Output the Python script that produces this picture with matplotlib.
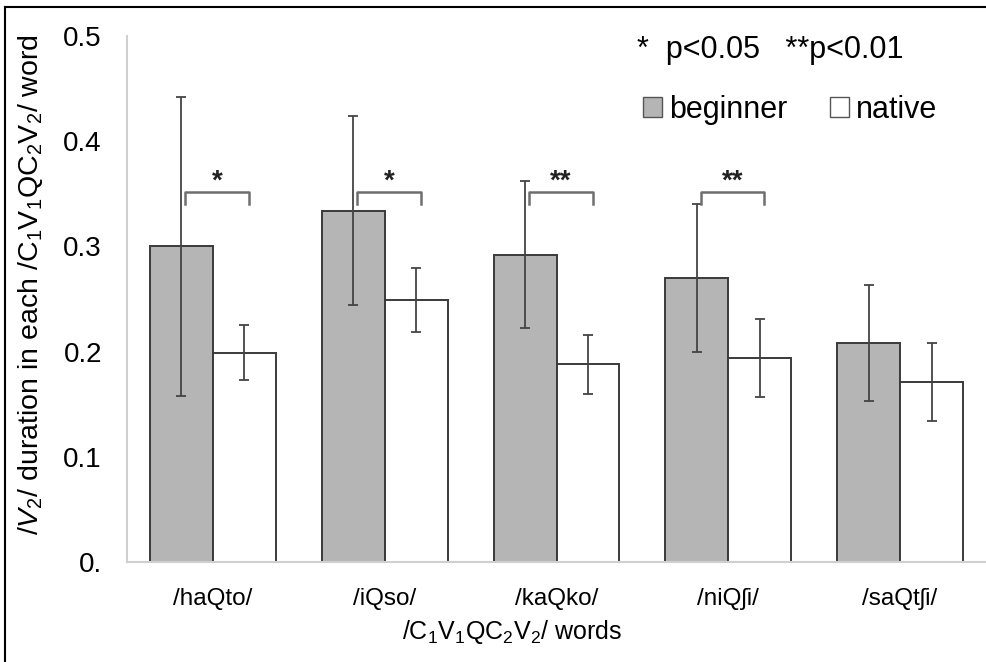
import numpy as np
import matplotlib
matplotlib.use('Agg')
import matplotlib.pyplot as plt
from matplotlib.patches import Patch
from matplotlib.lines import Line2D

words = ['/haQto/', '/iQso/', '/kaQko/', '/niQʃi/', '/saQtʃi/']
beginner = [0.300, 0.334, 0.292, 0.270, 0.208]
beginner_err = [0.142, 0.090, 0.070, 0.070, 0.055]
native = [0.199, 0.249, 0.188, 0.194, 0.171]
native_err = [0.026, 0.030, 0.028, 0.037, 0.037]
stars = ['*', '*', '**', '**', '']
yticks = [0.0, 0.1, 0.2, 0.3, 0.4, 0.5]
ytick_labels = ['0.', '0.1', '0.2', '0.3', '0.4', '0.5']

plt.rcParams['font.family'] = ['Liberation Sans', 'DejaVu Sans']
plt.rcParams['mathtext.fontset'] = 'custom'
plt.rcParams['mathtext.rm'] = 'Liberation Sans'
plt.rcParams['mathtext.it'] = 'Liberation Sans:italic'

fig = plt.figure(figsize=(9.86, 6.62), dpi=100)
ax = fig.add_axes([127 / 986, 1 - 562 / 662, 1 - 127 / 986, 526 / 662])

x = np.arange(len(words))
w = 0.366
err_kw = dict(ecolor='#444444', elinewidth=1.3, capsize=3.6, capthick=1.3)
ax.bar(x - w / 2, beginner, w, yerr=beginner_err, color='#b5b5b5',
       edgecolor='#3a3a3a', linewidth=1.4, error_kw=err_kw, label='beginner')
ax.bar(x + w / 2, native, w, yerr=native_err, color='white',
       edgecolor='#3a3a3a', linewidth=1.4, error_kw=err_kw, label='native')

# significance brackets
for i, s in enumerate(stars):
    if not s:
        continue
    x0, x1 = i - 0.16, i + 0.21
    ax.plot([x0, x0, x1, x1], [0.340, 0.352, 0.352, 0.340],
            color='#6e6e6e', lw=1.8)
    ax.text((x0 + x1) / 2, 0.349, s, ha='center', va='bottom',
            fontsize=20, fontweight='bold', color='#222222')

ax.set_xlim(-0.5, 4.5)
ax.set_ylim(0, 0.5)
ax.set_yticks(yticks)
ax.set_yticklabels(ytick_labels, fontsize=20)
ax.set_xticks(x)
ax.set_xticklabels(words, fontsize=17.5)
ax.tick_params(length=0)
ax.tick_params(axis='y', pad=18)
ax.tick_params(axis='x', pad=19)
for sp in ['top', 'right']:
    ax.spines[sp].set_visible(False)
for sp in ['left', 'bottom']:
    ax.spines[sp].set_color('#d0d0d0')
    ax.spines[sp].set_linewidth(1.5)

ax.set_ylabel(r'/$\it{V}_2$/ duration in each /C$_1$V$_1$QC$_2$V$_2$/ word',
              fontsize=20.5)
ax.yaxis.set_label_coords(-82 / 859, 0.527)
ax.set_xlabel(r'/C$_1$V$_1$QC$_2$V$_2$/ words', fontsize=18)
ax.xaxis.set_label_coords((512 - 127) / 859, -56 / 526)

ax.text(0.594, 0.973, '*  p<0.05   **p<0.01', transform=ax.transAxes,
        ha='left', va='center', fontsize=22)
handles = [Patch(facecolor='#b5b5b5', edgecolor='#555555', label='beginner'),
           Patch(facecolor='white', edgecolor='#555555', label='native')]
ax.legend(handles=handles, loc='center left', bbox_to_anchor=(0.601, 0.860),
          ncol=2, frameon=False, fontsize=22, handlelength=0.6,
          handleheight=0.6, handletextpad=0.25, columnspacing=1.4,
          borderaxespad=0, borderpad=0)

# outer frame
fig.add_artist(Line2D([5 / 986, 5 / 986], [0, 1 - 7 / 662], color='black', lw=1.5))
fig.add_artist(Line2D([5 / 986, 1], [1 - 7 / 662, 1 - 7 / 662], color='black', lw=1.5))

fig.savefig('out.png', dpi=100)
